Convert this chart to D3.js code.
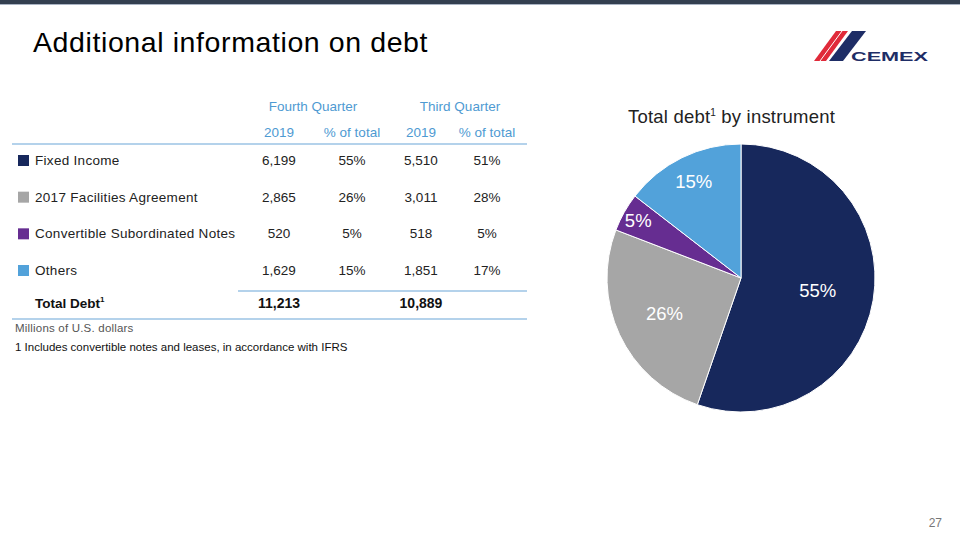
<!DOCTYPE html>
<html><head><meta charset="utf-8">
<script src="https://cdn.jsdelivr.net/npm/d3@7"></script>
<style>
body{margin:0;background:#fff;}
svg{display:block;font-family:"Liberation Sans",Arial,sans-serif;}
</style></head>
<body><svg id="c" width="960" height="540"></svg>
<script>
// ---- data ----
const categories = ["Fixed Income","2017 Facilities Agreement","Convertible Subordinated Notes","Others"];
const q4Values = [6199, 2865, 520, 1629];
const q4Pct = ["55%","26%","5%","15%"];
const q3Values = [5510, 3011, 518, 1851];
const q3Pct = ["51%","28%","5%","17%"];
const totals = [11213, 10889];
const colHeaders = ["Fourth Quarter","Third Quarter"];
const subHeaders = ["2019","% of total","2019","% of total"];
const sliceColors = ["#17285c","#a6a6a6","#662d91","#52a2da"];

const svg = d3.select("#c");
const fmt = d3.format(",");

// top bar
svg.append("rect").attr("x",0).attr("y",0).attr("width",960).attr("height",4).attr("fill","#333f50");
svg.append("rect").attr("x",0).attr("y",4).attr("width",960).attr("height",1).attr("fill","#aab4c4");

// title
svg.append("text").attr("x",33).attr("y",52).attr("font-size",28.5).attr("letter-spacing",0.6).attr("fill","#000")
  .text("Additional information on debt");

// logo
const logo = svg.append("g");
logo.append("polygon").attr("points","814,61 826,61 848,31 836,31").attr("fill","#e02a3a");
logo.append("line").attr("x1",820).attr("y1",61).attr("x2",842).attr("y2",31).attr("stroke","#fff").attr("stroke-width",1);
logo.append("polygon").attr("points","829,61 843,61 866,31 852,31").attr("fill","#1e2d66");
logo.append("text").attr("x",851).attr("y",61).attr("font-size",13).attr("font-weight","bold")
  .attr("fill","#1e2d66").attr("textLength",77).attr("lengthAdjust","spacingAndGlyphs").text("CEMEX");

// table
const headColor = "#4e9ad2";
const lineColor = "#6aa6d8";
const colX = d3.scaleOrdinal().domain(d3.range(4)).range([279, 352, 421, 487]);
const rowY = d3.scalePoint().domain(d3.range(categories.length)).range([165, 275]);

svg.selectAll(".ch").data(colHeaders).join("text").attr("class","ch")
  .attr("x",(d,i)=>i===0?313:460).attr("y",111).attr("text-anchor","middle")
  .attr("font-size",13.5).attr("fill",headColor).text(d=>d);
svg.selectAll(".sh").data(subHeaders).join("text").attr("class","sh")
  .attr("x",(d,i)=>colX(i)).attr("y",137).attr("text-anchor","middle")
  .attr("font-size",13.5).attr("fill",headColor).text(d=>d);

svg.append("line").attr("x1",12).attr("x2",527).attr("y1",144).attr("y2",144).attr("stroke",lineColor).attr("stroke-width",1.2);

const rows = svg.selectAll(".row").data(categories).join("g").attr("class","row")
  .attr("transform",(d,i)=>`translate(0,${rowY(i)})`);
rows.append("rect").attr("x",18).attr("y",-10).attr("width",11).attr("height",11)
  .attr("fill",(d,i)=>sliceColors[i]);
rows.append("text").attr("x",35).attr("y",0).attr("font-size",13.5).attr("letter-spacing",0.3).attr("fill","#222").text(d=>d);
const cells = (i)=>[fmt(q4Values[i]), q4Pct[i], fmt(q3Values[i]), q3Pct[i]];
rows.each(function(d,i){
  d3.select(this).selectAll(".cell").data(cells(i)).join("text").attr("class","cell")
    .attr("x",(v,j)=>colX(j)).attr("y",0).attr("text-anchor","middle")
    .attr("font-size",13.5).attr("fill","#222").text(v=>v);
});

svg.append("line").attr("x1",238).attr("x2",527).attr("y1",291).attr("y2",291).attr("stroke",lineColor).attr("stroke-width",1.2);
const tot = svg.append("text").attr("x",35).attr("y",308).attr("font-size",13.5).attr("font-weight","bold").attr("fill","#111");
tot.append("tspan").text("Total Debt");
tot.append("tspan").attr("dy",-6).attr("font-size",8).text("1");
svg.selectAll(".tot").data(totals).join("text").attr("class","tot")
  .attr("x",(d,i)=>colX(i*2)).attr("y",308).attr("text-anchor","middle")
  .attr("font-size",14).attr("font-weight","bold").attr("fill","#111").text(d=>fmt(d));
svg.append("line").attr("x1",12).attr("x2",527).attr("y1",319).attr("y2",319).attr("stroke",lineColor).attr("stroke-width",1.2);

svg.append("text").attr("x",15).attr("y",332).attr("font-size",11.5).attr("letter-spacing",0.2).attr("fill","#555").text("Millions of U.S. dollars");
svg.append("text").attr("x",15).attr("y",351).attr("font-size",11.5).attr("fill","#111").text("1 Includes convertible notes and leases, in accordance with IFRS");

// pie title
const pt = svg.append("text").attr("x",628).attr("y",123).attr("font-size",18.5).attr("letter-spacing",0.2).attr("fill","#222");
pt.append("tspan").text("Total debt");
pt.append("tspan").attr("dy",-7).attr("font-size",10).text("1");
pt.append("tspan").attr("dy",7).text(" by instrument");

// pie
const cx = 741, cy = 278, R = 134;
const pie = d3.pie().sort(null).value(d=>d)(q4Values);
const arc = d3.arc().innerRadius(0).outerRadius(R);
const g = svg.append("g").attr("transform",`translate(${cx},${cy})`);
g.selectAll("path").data(pie).join("path").attr("d",arc)
  .attr("fill",(d,i)=>sliceColors[i]).attr("stroke","#fff").attr("stroke-width",1);
const labelFrac = [0.58, 0.63, 0.88, 0.80];
g.selectAll(".pl").data(pie).join("text").attr("class","pl")
  .attr("transform",(d,i)=>{
    const a = (d.startAngle+d.endAngle)/2, r = R*labelFrac[i];
    return `translate(${r*Math.sin(a)},${-r*Math.cos(a)})`;
  })
  .attr("text-anchor","middle").attr("dy","0.35em").attr("font-size",18.5).attr("fill","#fff")
  .text((d,i)=>q4Pct[i]);

// page number
svg.append("text").attr("x",942).attr("y",527).attr("text-anchor","end").attr("font-size",12).attr("fill","#777").text("27");
</script></body></html>
